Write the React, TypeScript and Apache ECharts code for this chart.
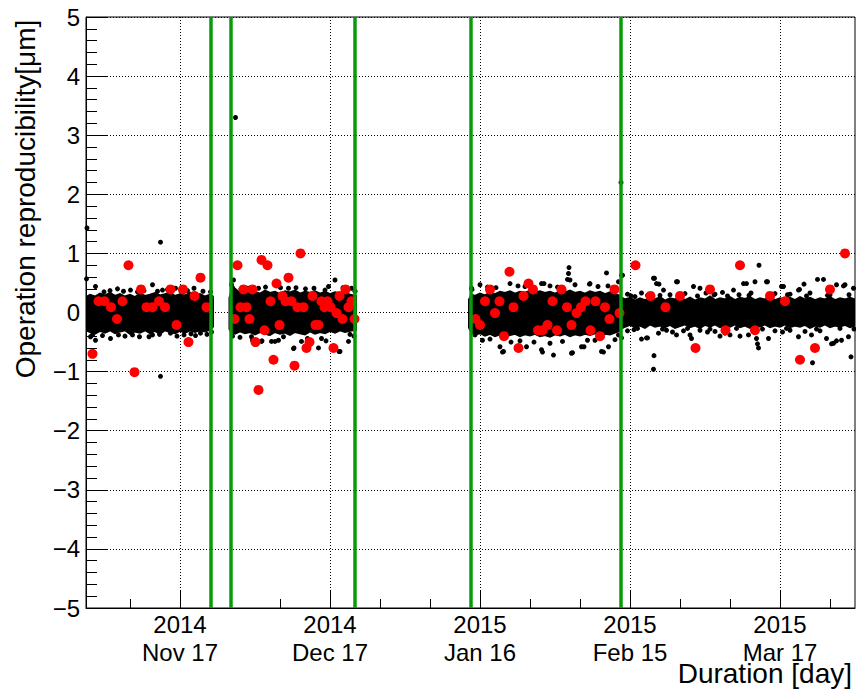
import React, { useEffect, useRef } from 'react';
import * as echarts from 'echarts';

// x values are days relative to 2014-11-17
const X_MIN = -18.8;
const X_MAX = 135;
const majorTickDays = [0, 30, 60, 90, 120];
const majorTickLabels = ['2014\nNov 17', '2014\nDec 17', '2015\nJan 16', '2015\nFeb 15', '2015\nMar 17'];
const minorTickDays = [-10, 10, 20, 40, 50, 70, 80, 100, 110, 130];
const greenLineDays = [6.2, 10.2, 35.0, 58.1, 88.1];
const yTickValues = [-5, -4, -3, -2, -1, 0, 1, 2, 3, 4, 5];

// dense core of the black point cloud: [day, upper edge, lower edge]
const bandSeg1 = [
  [-18.8, 0.26, -0.30], [-18, 0.30, -0.33], [-17, 0.27, -0.36], [-16, 0.32, -0.31], [-15, 0.29, -0.34],
  [-14, 0.33, -0.30], [-13, 0.28, -0.35], [-12, 0.31, -0.32], [-11, 0.27, -0.30], [-10, 0.30, -0.36],
  [-9, 0.26, -0.32], [-8, 0.32, -0.34], [-7, 0.28, -0.30], [-6, 0.30, -0.35], [-5, 0.33, -0.31],
  [-4, 0.29, -0.36], [-3, 0.31, -0.30], [-2, 0.34, -0.33], [-1, 0.28, -0.35], [0, 0.31, -0.31],
  [1, 0.29, -0.34], [2, 0.33, -0.30], [3, 0.28, -0.33], [4, 0.31, -0.30], [5, 0.27, -0.32],
  [6, 0.30, -0.29], [6.6, 0.22, -0.24],
];
const bandSeg2 = [
  [9.9, 0.25, -0.28], [10.3, 0.36, -0.34], [11, 0.40, -0.36], [12, 0.33, -0.32], [13, 0.36, -0.35],
  [14, 0.31, -0.33], [15, 0.35, -0.37], [16, 0.32, -0.33], [17, 0.37, -0.35], [18, 0.33, -0.38],
  [19, 0.35, -0.33], [20, 0.31, -0.36], [21, 0.36, -0.34], [22, 0.34, -0.38], [23, 0.37, -0.33],
  [24, 0.32, -0.35], [25, 0.35, -0.37], [26, 0.33, -0.32], [27, 0.36, -0.36], [28, 0.32, -0.33],
  [29, 0.35, -0.35], [30, 0.31, -0.31], [31, 0.34, -0.34], [32, 0.32, -0.30], [33, 0.35, -0.33],
  [34, 0.30, -0.31], [35.2, 0.28, -0.29],
];
const bandSeg3 = [
  [57.8, 0.22, -0.26], [58.3, 0.30, -0.34], [59, 0.28, -0.37], [60, 0.32, -0.35], [61, 0.29, -0.39],
  [62, 0.34, -0.36], [63, 0.31, -0.40], [64, 0.35, -0.37], [65, 0.33, -0.41], [66, 0.36, -0.38],
  [67, 0.32, -0.36], [68, 0.35, -0.40], [69, 0.33, -0.37], [70, 0.37, -0.39], [71, 0.34, -0.36],
  [72, 0.36, -0.40], [73, 0.33, -0.38], [74, 0.35, -0.41], [75, 0.32, -0.37], [76, 0.36, -0.39],
  [77, 0.34, -0.36], [78, 0.37, -0.40], [79, 0.33, -0.37], [80, 0.35, -0.39], [81, 0.32, -0.36],
  [82, 0.36, -0.38], [83, 0.33, -0.35], [84, 0.35, -0.39], [85, 0.31, -0.36], [86, 0.34, -0.37],
  [87, 0.31, -0.34], [88.1, 0.28, -0.30],
];
const bandSeg4 = [
  [88.1, 0.26, -0.28], [89, 0.22, -0.24], [90, 0.25, -0.21], [91, 0.20, -0.25], [92, 0.24, -0.22],
  [93, 0.21, -0.26], [94, 0.25, -0.20], [95, 0.22, -0.24], [96, 0.26, -0.22], [97, 0.20, -0.25],
  [98, 0.24, -0.21], [99, 0.22, -0.26], [100, 0.26, -0.23], [101, 0.21, -0.20], [102, 0.25, -0.25],
  [103, 0.20, -0.22], [104, 0.24, -0.26], [105, 0.22, -0.21], [106, 0.27, -0.24], [107, 0.21, -0.20],
  [108, 0.24, -0.25], [109, 0.22, -0.22], [110, 0.26, -0.24], [111, 0.21, -0.20], [112, 0.25, -0.25],
  [113, 0.23, -0.22], [114, 0.26, -0.26], [115, 0.21, -0.21], [116, 0.24, -0.24], [117, 0.22, -0.20],
  [118, 0.26, -0.25], [119, 0.21, -0.22], [120, 0.24, -0.24], [121, 0.22, -0.20], [122, 0.25, -0.25],
  [123, 0.21, -0.22], [124, 0.26, -0.24], [125, 0.22, -0.21], [126, 0.25, -0.26], [127, 0.21, -0.22],
  [128, 0.24, -0.24], [129, 0.22, -0.20], [130, 0.26, -0.25], [131, 0.21, -0.22], [132, 0.24, -0.24],
  [133, 0.22, -0.21], [134, 0.25, -0.25], [135, 0.22, -0.22],
];

// individual black points (outliers and fringe of the cloud): [day, value]
const blackOutliers = [
  [-18.6, 1.43], [-18.7, 0.57], [-3.9, 1.19], [-3.9, -1.08], [11.1, 3.30], [88.2, 2.20],
];
const blackFringe1 = [
  [-16.9, 0.44], [-15.2, 0.35], [-14, 0.37], [-12.5, 0.40], [-11.3, 0.36], [-9.9, 0.38], [-8.5, 0.35],
  [-7.2, 0.37], [-5.5, 0.47], [-4.5, 0.36], [-3.5, 0.38], [-2.5, 0.39], [-0.9, 0.41], [0.2, 0.36],
  [1.5, 0.37], [2.8, 0.41], [4.6, 0.36], [6.1, 0.35], [6.3, 0.26],
  [-17.9, -0.41], [-17.5, -0.38], [-16.9, -0.47], [-15.5, -0.39], [-13.9, -0.44], [-12.3, -0.38],
  [-11, -0.40], [-9.5, -0.38], [-8.1, -0.41], [-6.2, -0.41], [-5.5, -0.38], [-4.1, -0.37], [-1.9, -0.35],
  [-0.6, -0.40], [0.8, -0.38], [2.2, -0.36], [3.1, -0.39], [4.1, -0.35], [5.4, -0.37], [6.3, -0.33],
];
const blackFringe2 = [
  [10.3, 0.47], [10.7, 0.55], [10.5, 0.42], [12.2, 0.40], [13.6, 0.41], [15.7, 0.41], [17.1, 0.43],
  [18.9, 0.49], [20.1, 0.42], [21.7, 0.41], [23.2, 0.42], [25.1, 0.40], [26.8, 0.41], [29.0, 0.38],
  [29.7, 0.44], [31.0, 0.55], [32.6, 0.42], [34.3, 0.41], [35.0, 0.36],
  [10.5, -0.40], [12.0, -0.42], [14.3, -0.41], [14.5, -0.47], [16.3, -0.49], [16.4, -0.48], [17.7, -0.35],
  [18.3, -0.49], [19.0, -0.49], [19.7, -0.47], [20.7, -0.41], [22.7, -0.61], [22.8, -0.60], [24.3, -0.49],
  [25.5, -0.44], [27.7, -0.60], [28.3, -0.44], [29.2, -0.48], [31.8, -0.66], [32.0, -0.66], [33.7, -0.49],
  [34.0, -0.37], [34.8, -0.40],
];
const blackFringe3 = [
  [58.3, 0.41], [58.4, 0.39], [60.0, 0.47], [61.5, 0.43], [63.2, 0.42], [66.0, 0.49], [67.6, 0.45],
  [69.0, 0.44], [72.3, 0.49], [72.8, 0.49], [74.0, 0.45], [75.5, 0.43], [77.5, 0.56], [77.7, 0.66],
  [77.8, 0.76], [78.0, 0.55], [79.0, 0.47], [81.9, 0.48], [82.0, 0.49], [83.6, 0.44], [85.3, 0.67],
  [85.6, 0.45], [87.7, 0.52], [88.5, 0.63],
  [59.0, -0.38], [60.5, -0.47], [62.0, -0.45], [64.0, -0.58], [64.5, -0.67], [64.7, -0.66], [66.2, -0.50],
  [68.0, -0.48], [69.3, -0.58], [70.8, -0.50], [72.3, -0.63], [72.5, -0.67], [74.0, -0.52], [74.7, -0.72],
  [76.5, -0.49], [78.3, -0.69], [78.5, -0.68], [80.3, -0.58], [80.8, -0.58], [81.5, -0.47], [83.0, -0.47],
  [84.3, -0.66], [84.7, -0.67], [85.7, -0.58], [87.0, -0.46],
];
const blackFringe4 = [
  [88.3, 0.63], [89.5, 0.31], [90.2, 0.28], [91.0, 0.27], [92.3, 0.33], [93.5, 0.29], [94.7, 0.58],
  [94.9, 0.58], [95.3, 0.49], [95.8, 0.48], [96.0, 0.29], [96.7, 0.38], [98.0, 0.30], [99.3, 0.52],
  [99.5, 0.52], [100.5, 0.29], [101.0, 0.32], [102.7, 0.44], [103.5, 0.28], [104.0, 0.41], [105.2, 0.33],
  [106.8, 0.30], [107.0, 0.31], [108.5, 0.34], [109.5, 0.28], [110.7, 0.38], [111.8, 0.30], [112.7, 0.49],
  [113.3, 0.49], [113.8, 0.29], [114.2, 0.33], [115.0, 0.52], [115.8, 0.80], [117.3, 0.52], [117.5, 0.52],
  [118.6, 0.29], [119.0, 0.32], [120.3, 0.44], [120.7, 0.44], [121.5, 0.30], [122.0, 0.31], [123.7, 0.38],
  [123.9, 0.39], [124.8, 0.48], [125.3, 0.28], [126.0, 0.33], [127.5, 0.56], [128.7, 0.56], [129.5, 0.29],
  [130.0, 0.30], [131.3, 0.47], [132.7, 0.45], [133.0, 0.47], [133.8, 0.30], [134.7, 0.41],
  [87.7, -0.38], [88.3, -0.43], [89.5, -0.31], [90.8, -0.29], [91.5, -0.27], [92.3, -0.45], [93.3, -0.43],
  [93.5, -0.43], [94.7, -0.96], [94.8, -0.73], [95.7, -0.35], [96.5, -0.28], [97.3, -0.30], [98.5, -0.33],
  [99.3, -0.38], [100.7, -0.31], [101.5, -0.27], [102.0, -0.38], [102.3, -0.44], [104.0, -0.30],
  [105.5, -0.33], [106.0, -0.28], [107.0, -0.32], [108.0, -0.40], [109.0, -0.35], [110.0, -0.38],
  [111.3, -0.27], [112.0, -0.40], [113.7, -0.38], [115.3, -0.44], [115.5, -0.53], [115.7, -0.60],
  [116.5, -0.28], [117.7, -0.44], [119.0, -0.31], [120.5, -0.33], [121.3, -0.27], [122.0, -0.30],
  [123.7, -0.41], [125.0, -0.32], [126.3, -0.38], [126.5, -0.85], [127.3, -0.28], [128.0, -0.31],
  [129.3, -0.44], [130.3, -0.53], [130.7, -0.52], [131.3, -0.48], [132.0, -0.27], [132.3, -0.47],
  [133.7, -0.41], [134.2, -0.75], [134.8, -0.28],
];

// red points: [day, value]
const redPoints = [
  [-17.5, -0.70], [-16.3, 0.19], [-15.1, 0.19], [-13.8, 0.09], [-12.6, -0.11], [-11.5, 0.19], [-10.3, 0.80],
  [-9.1, -1.01], [-7.8, 0.39], [-6.7, 0.09], [-5.5, 0.09], [-4.2, 0.19], [-3.0, 0.09], [-1.9, 0.39],
  [-0.7, -0.21], [0.6, 0.39], [1.7, -0.50], [2.9, 0.28], [4.1, 0.59], [5.3, 0.09],
  [10.9, -0.11], [11.5, 0.80], [12.1, 0.09], [12.7, 0.39], [13.3, 0.09], [13.9, -0.11], [14.5, 0.39],
  [15.1, -0.50], [15.7, -1.31], [16.3, 0.89], [16.9, -0.30], [17.5, 0.80], [18.1, 0.19], [18.7, -0.80],
  [19.3, 0.49], [19.9, -0.21], [20.5, 0.28], [21.1, 0.19], [21.7, 0.59], [22.3, 0.19], [22.9, -0.90],
  [23.5, 0.09], [24.1, 1.00], [24.7, 0.09], [25.3, -0.60], [25.9, -0.50], [26.5, 0.28], [27.1, -0.21],
  [27.7, -0.21], [28.3, 0.19], [28.9, 0.09], [29.5, 0.19], [30.1, 0.09], [30.7, -0.60], [31.3, -0.01],
  [31.9, 0.28], [32.5, -0.11], [33.1, 0.39], [33.7, 0.09], [34.3, 0.19], [34.9, -0.11],
  [59.1, -0.11], [60.0, -0.21], [61.0, 0.19], [62.0, 0.39], [63.0, -0.01], [63.9, 0.19], [64.8, -0.40],
  [65.9, 0.69], [66.7, 0.09], [67.7, -0.60], [68.7, 0.28], [69.7, 0.49], [70.6, 0.39], [71.6, -0.30],
  [72.5, -0.30], [73.5, -0.21], [74.5, 0.19], [75.4, -0.30], [76.3, 0.39], [77.4, 0.09], [78.3, -0.21],
  [79.3, -0.01], [80.2, 0.09], [81.1, 0.19], [82.1, -0.30], [83.1, 0.19], [84.0, -0.40], [85.0, 0.09],
  [85.9, -0.11], [86.9, 0.39], [87.9, -0.01],
  [91.1, 0.80], [94.1, 0.28], [97.1, 0.09], [100.0, 0.28], [103.1, -0.60], [106.0, 0.39], [109.1, -0.30],
  [112.0, 0.80], [115.0, -0.30], [118.0, 0.28], [121.0, 0.19], [124.0, -0.80], [127.0, -0.60],
  [130.0, 0.39], [133.0, 1.00],
];

const bands = [bandSeg1, bandSeg2, bandSeg3, bandSeg4];
const FONT = '"Liberation Sans", Arial, Helvetica, sans-serif';
const GREEN = '#079c07';

const fmtY = (v: number) => (v < 0 ? '\u2212' + Math.abs(v) : String(v));

export default function App() {
  const ref = useRef<HTMLDivElement>(null);
  useEffect(() => {
    document.body.style.margin = '0';
    if (!ref.current) return;
    const chart = echarts.init(ref.current, null, { renderer: 'svg' });
    const blackPoints = [...blackOutliers, ...blackFringe1, ...blackFringe2, ...blackFringe3, ...blackFringe4];
    chart.setOption({
      animation: false,
      backgroundColor: '#fff',
      grid: { left: 86, top: 17, right: 1, bottom: 81, show: true, borderColor: '#000', borderWidth: 1, backgroundColor: 'transparent' },
      xAxis: [
        {
          type: 'value', min: X_MIN, max: X_MAX, position: 'bottom',
          axisLine: { show: true, onZero: false, lineStyle: { color: '#000', width: 1 } },
          axisTick: { show: true, inside: true, length: 18, customValues: majorTickDays, lineStyle: { color: '#000', width: 1 } },
          axisLabel: {
            show: true, customValues: majorTickDays, color: '#000', fontSize: 24, fontFamily: FONT, lineHeight: 28, margin: 2,
            formatter: (v: number) => {
              const i = majorTickDays.indexOf(Math.round(v));
              return i >= 0 ? majorTickLabels[i] : '';
            },
          },
          splitLine: { show: true, lineStyle: { color: '#000', width: 1, type: [1, 2] } },
        },
        {
          type: 'value', min: X_MIN, max: X_MAX, position: 'bottom', offset: 0,
          axisLine: { show: false, onZero: false },
          axisTick: { show: true, inside: true, length: 9, customValues: minorTickDays, lineStyle: { color: '#000', width: 1 } },
          axisLabel: { show: false },
          splitLine: { show: false },
        },
      ],
      yAxis: {
        type: 'value', min: yTickValues[0], max: yTickValues[yTickValues.length - 1], interval: 1,
        axisLine: { show: true, onZero: false, lineStyle: { color: '#000', width: 1 } },
        axisTick: { show: true, inside: true, length: 22, lineStyle: { color: '#000', width: 1 } },
        minorTick: { show: true, splitNumber: 5, length: 11, lineStyle: { color: '#000', width: 1 } },
        axisLabel: { color: '#000', fontSize: 24, fontFamily: FONT, margin: 6, formatter: fmtY },
        splitLine: { show: true, lineStyle: { color: '#000', width: 1, type: [1, 2] } },
      },
      series: [
        {
          type: 'custom',
          coordinateSystem: 'cartesian2d',
          xAxisIndex: 0,
          clip: true,
          z: 1,
          silent: true,
          data: bands.map((b) => [b[0][0], 0]),
          renderItem: (params: any, api: any) => {
            const seg = bands[params.dataIndex];
            const pts: number[][] = [];
            for (let i = 0; i < seg.length; i++) pts.push(api.coord([seg[i][0], seg[i][1]]));
            for (let i = seg.length - 1; i >= 0; i--) pts.push(api.coord([seg[i][0], seg[i][2]]));
            return { type: 'polygon', shape: { points: pts }, style: { fill: '#000', stroke: '#000', lineWidth: 2 } };
          },
        },
        {
          type: 'scatter', xAxisIndex: 0, data: blackPoints, symbol: 'circle', symbolSize: 5,
          itemStyle: { color: '#000', opacity: 1 }, z: 2, silent: true,
        },
        {
          type: 'scatter', xAxisIndex: 0, data: redPoints, symbol: 'circle', symbolSize: 10,
          itemStyle: { color: '#ff0000', opacity: 1 }, z: 3, silent: true,
        },
        {
          type: 'line', xAxisIndex: 0, data: [], z: 4, silent: true,
          markLine: {
            silent: true, symbol: ['none', 'none'], label: { show: false },
            lineStyle: { color: GREEN, width: 3.5, type: 'solid', opacity: 1 },
            emphasis: { disabled: true },
            data: greenLineDays.map((d) => ({ xAxis: d })),
          },
        },
      ],
      graphic: [
        {
          type: 'text', x: 25, y: 199, rotation: Math.PI / 2, silent: true,
          style: {
            text: 'Operation reproducibility[\u03bcm]', fontSize: 28, fontFamily: FONT, fill: '#000',
            textAlign: 'center', textVerticalAlign: 'middle', align: 'center', verticalAlign: 'middle',
          },
        },
        {
          type: 'text', x: 852, y: 673, silent: true,
          style: {
            text: 'Duration [day]', fontSize: 28, fontFamily: FONT, fill: '#000',
            textAlign: 'right', textVerticalAlign: 'middle', align: 'right', verticalAlign: 'middle',
          },
        },
      ],
    });
    return () => chart.dispose();
  }, []);
  return <div ref={ref} style={{ width: 856, height: 689 }} />;
}
